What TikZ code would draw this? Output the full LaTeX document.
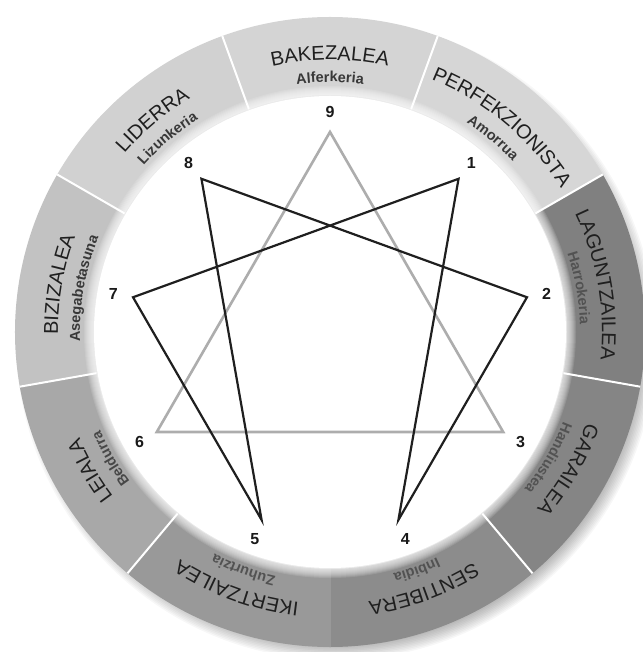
\documentclass[tikz,border=0pt]{standalone}
\usepackage{fontspec}
\setmainfont{Liberation Sans}
\usepackage{tikz}
\usetikzlibrary{decorations.text}
\tikzset{
  divider/.style={white, line width=2pt},
  hexad/.style={line width=2.2pt, black!88},
  triad/.style={line width=2.6pt, black!32},
  numlbl/.style={font=\fontsize{16}{16}\selectfont\bfseries, text=black!90, inner sep=0pt},
}
\newcommand{\segmainfont}{\fontsize{20}{20}\selectfont}
\newcommand{\segsubfont}{\fontsize{14.5}{14.5}\selectfont\bfseries}
% ring piece: centre angle, fill
\newcommand{\ringseg}[2]{%
  \fill[#2] ({#1+20}:237) arc[start angle={#1+20}, end angle={#1-20}, radius=237]
    -- ({#1-20}:315) arc[start angle={#1-20}, end angle={#1+20}, radius=315] -- cycle;}
% names on the ring: centre angle, name, vice, vice colour
\newcommand{\seglabel}[4]{%
  \path[decorate, decoration={text along path, text align=center, text color=black!88,
    text={|\segmainfont|#2}}] ({#1+20}:272) arc[start angle={#1+20}, end angle={#1-20}, radius=272];
  \path[decorate, decoration={text along path, text align=center, text color=#4,
    text={|\segsubfont|#3}}] ({#1+20}:250) arc[start angle={#1+20}, end angle={#1-20}, radius=250];}

\begin{document}
\begin{tikzpicture}[x=1pt, y=1pt]
\useasboundingbox (-330,-320) rectangle (312,332);
% soft shadow
\foreach \k in {1,...,10} \fill[black, opacity=0.03] (6,-8) circle[radius=305+\k*1.5];
% ring
\ringseg{90}{black!17}
\ringseg{50}{black!16}
\ringseg{10}{black!50}
\ringseg{-30}{black!48}
\ringseg{-70}{black!45}
\ringseg{-110}{black!40}
\ringseg{-150}{black!34}
\ringseg{170}{black!24}
\ringseg{130}{black!18}
\foreach \a in {110,70,30,-10,-50,-130,-170,150} \draw[divider] (\a:237) -- (\a:315);
\draw[black!40, line width=0.8pt] (-90:237) -- (-90:315);
% inner glow
\foreach \k in {0,...,9} \fill[white, opacity=0.12] (0,0) circle[radius=237+\k];
\fill[white] (0,0) circle[radius=236];
% names
\seglabel{90}{BAKEZALEA}{Alferkeria}{black!78}
\seglabel{50}{PERFEKZIONISTA}{Amorrua}{black!78}
\seglabel{10}{LAGUNTZAILEA}{Harrokeria}{black!68}
\seglabel{-30}{GARAILEA}{Handiustea}{black!68}
\seglabel{-70}{SENTIBERA}{Inbidia}{black!68}
\seglabel{-110}{IKERTZAILEA}{Zuhurtzia}{black!68}
\seglabel{-150}{LEIALA}{Beldurra}{black!72}
\seglabel{170}{BIZIZALEA}{Asegabetasuna}{black!78}
\seglabel{130}{LIDERRA}{Lizunkeria}{black!78}
% points
\foreach \i/\a in {9/90,1/50,2/10,3/-30,4/-70,5/-110,6/-150,7/170,8/130} {
  \coordinate (p\i) at (\a:200);
  \node[numlbl] (n\i) at (\a:220) {\i};
}
\draw[triad] (p9) -- (p3) -- (p6) -- cycle;
\draw[hexad] (p1) -- (p4) -- (p2) -- (p8) -- (p5) -- (p7) -- cycle;
\end{tikzpicture}
\end{document}
